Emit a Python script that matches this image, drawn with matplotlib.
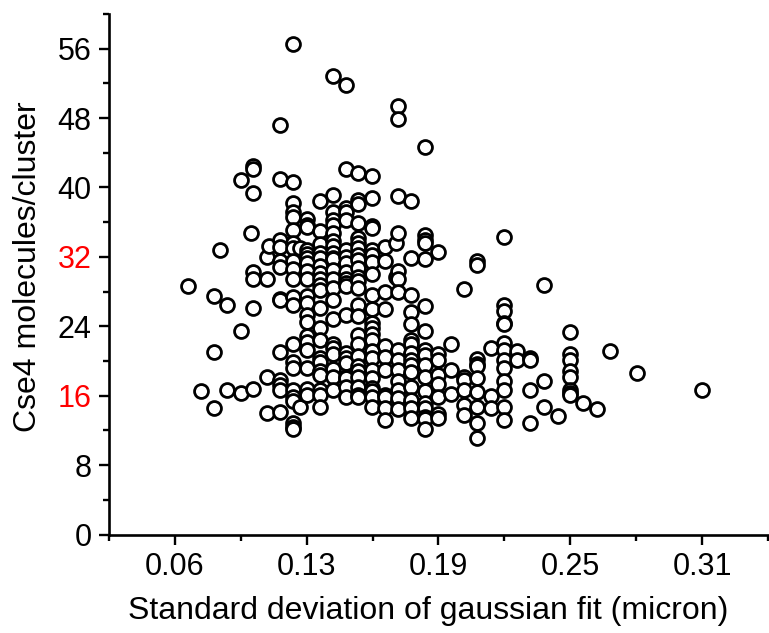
import matplotlib
matplotlib.use("Agg")
import matplotlib.pyplot as plt
import numpy as np

# standard deviation of gaussian fit (micron) / molecules per cluster, read column by column
sd = (
    [0.0687] + [0.0749] + [0.0810] * 3 + [0.0838] + [0.0872] * 2 + [0.0937] * 3 + [0.0986]
    + [0.0996] * 7 + [0.1062] * 4 + [0.1071] + [0.1124] * 13 + [0.1186] * 22 + [0.1219] * 2
    + [0.1252] * 19 + [0.1314] * 20 + [0.1375] * 22 + [0.1437] * 20 + [0.1494] * 24
    + [0.1561] * 22 + [0.1623] * 11 + [0.1675] * 2 + [0.1684] * 14 + [0.1746] * 15
    + [0.1812] * 17 + [0.1874] * 8 + [0.1936] * 3 + [0.1998] * 6 + [0.2060] * 10
    + [0.2126] * 3 + [0.2188] * 13 + [0.2249] * 2 + [0.2311] * 4 + [0.2373] * 3 + [0.2440]
    + [0.2497] * 8 + [0.2559] + [0.2625] + [0.2687] + [0.2815] + [0.3124]
)
molecules = [
    28.6,
    16.5,
    27.5, 21.0, 14.6,
    32.8,
    26.5, 16.6,
    40.9, 23.5, 16.3,
    34.8,
    42.5, 42.1, 39.4, 30.3, 29.4, 26.1, 16.8,
    32.0, 29.4, 18.2, 14.0,
    33.2,
    47.2, 41.0, 33.9, 33.1, 31.5, 30.8, 27.2, 27.0, 21.0, 17.8, 17.2, 16.7, 14.1,
    56.5, 40.6, 38.2, 37.2, 36.6, 35.1, 33.6, 33.0, 31.5, 30.6, 29.4, 27.4, 26.4, 21.9,
    19.9, 19.2, 16.7, 15.9, 15.4, 12.8, 12.4, 12.2,
    33.0, 14.7,
    36.4, 35.7, 35.4, 32.8, 32.3, 31.9, 31.3, 30.4, 29.5, 27.5, 26.7, 25.3, 24.5, 22.9,
    22.2, 21.3, 19.2, 16.8, 16.1,
    38.4, 35.0, 33.5, 32.4, 31.9, 31.0, 30.1, 29.5, 28.8, 28.2, 26.1, 23.8, 22.4, 20.3,
    19.9, 18.8, 18.4, 16.6, 16.1, 14.7,
    52.9, 39.1, 37.2, 36.3, 35.7, 34.7, 33.8, 33.2, 32.4, 31.9, 31.7, 30.5, 29.5, 28.4,
    27.0, 24.8, 21.9, 21.5, 20.8, 19.1, 18.2, 16.6,
    51.8, 42.1, 37.6, 37.2, 36.3, 32.8, 32.0, 31.3, 30.3, 29.4, 29.0, 28.6, 25.3, 20.9,
    20.3, 19.8, 18.2, 18.0, 17.0, 15.9,
    41.7, 38.6, 38.1, 35.9, 34.2, 33.6, 33.0, 32.2, 31.6, 30.7, 29.7, 29.2, 28.4, 26.4,
    25.2, 23.0, 22.0, 20.6, 19.4, 18.8, 18.2, 17.0, 16.1, 15.9,
    41.3, 38.8, 35.5, 35.3, 32.8, 32.2, 31.4, 30.0, 27.6, 26.0, 24.4, 23.8, 23.1, 22.4,
    21.1, 20.3, 19.0, 18.0, 16.9, 16.5, 15.9, 14.7,
    33.1, 31.5, 28.0, 26.0, 21.7, 20.5, 19.0, 16.1, 15.9, 14.6, 13.2,
    33.6, 29.7,
    49.4, 47.9, 39.0, 34.8, 30.4, 29.4, 27.9, 21.3, 20.1, 19.0, 17.7, 16.7, 15.7, 14.5,
    38.4, 31.9, 27.6, 25.6, 24.3, 22.4, 21.9, 20.9, 20.1, 19.5, 18.7, 17.0, 15.5, 14.6, 13.4,
    44.7, 34.5, 34.0, 33.6, 31.7, 26.3, 23.5, 21.3, 20.7, 19.5, 18.2, 16.5, 15.1, 14.6,
    13.6, 13.3, 12.2,
    32.6, 20.8, 20.1, 18.4, 17.4, 15.9, 13.9, 13.4,
    21.9, 19.0, 16.2,
    28.3, 18.1, 17.8, 16.6, 14.9, 13.8,
    31.5, 31.1, 20.2, 19.6, 19.4, 18.0, 16.4, 14.7, 12.8, 11.1,
    21.5, 16.0, 14.6,
    34.3, 26.5, 25.8, 24.4, 24.3, 22.1, 21.3, 20.1, 19.2, 17.7, 16.6, 14.7, 13.2,
    21.1, 20.1,
    20.3, 20.1, 16.7, 12.8,
    28.7, 17.7, 14.7,
    13.7,
    23.3, 20.8, 20.1, 18.8, 18.1, 16.7, 16.3, 16.1,
    15.1,
    14.5,
    21.2,
    18.6,
    16.7,
]

x_ticks = [0.0625, 0.125, 0.1875, 0.25, 0.3125]
x_ticklabels = ["0.06", "0.13", "0.19", "0.25", "0.31"]
y_ticks = [0, 8, 16, 24, 32, 40, 48, 56]
red_labels = ["16", "32"]

plt.rcParams["font.family"] = ["Liberation Sans", "DejaVu Sans"]

fig = plt.figure(figsize=(7.69, 6.33), dpi=100)
ax = fig.add_axes([0.1417, 0.1556, 0.857, 0.8224])

ax.scatter(sd, molecules, s=100, facecolors="white", edgecolors="black",
           linewidths=2.0, zorder=3, clip_on=False)

ax.set_xlim(0.03125, 0.34375)
ax.set_ylim(0, 60)
ax.set_xticks(x_ticks)
ax.set_xticklabels(x_ticklabels)
ax.set_xticks(np.arange(0.03125, 0.35, 0.0625), minor=True)
ax.set_yticks(y_ticks)
ax.set_yticks(np.arange(4, 61, 8), minor=True)

for side in ["top", "right"]:
    ax.spines[side].set_visible(False)
for side in ["left", "bottom"]:
    ax.spines[side].set_linewidth(1.9)

ax.tick_params(which="major", direction="out", length=7.5, width=1.7, labelsize=22, pad=5)
ax.tick_params(which="minor", direction="out", length=4.3, width=1.7)

for lbl in ax.get_yticklabels():
    if lbl.get_text() in red_labels:
        lbl.set_color("red")

ax.set_xlabel("Standard deviation of gaussian fit (micron)", fontsize=23)
ax.set_ylabel("Cse4 molecules/cluster", fontsize=23)
ax.xaxis.set_label_coords(0.485, -0.118)
ax.yaxis.set_label_coords(-0.100, 0.515)

fig.savefig("out.png", dpi=100)
